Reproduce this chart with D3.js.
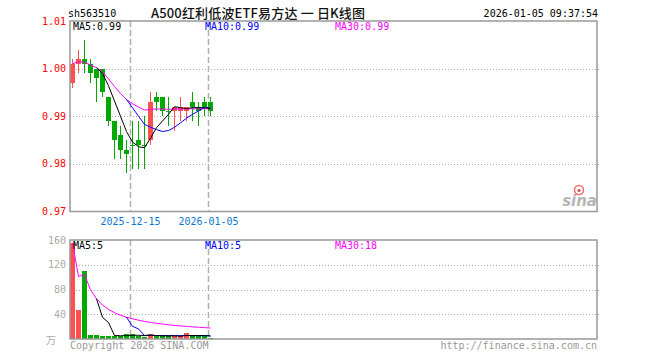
<!DOCTYPE html>
<html><head><meta charset="utf-8">
<script src="https://cdn.jsdelivr.net/npm/d3@7"></script>
<style>html,body{margin:0;padding:0;background:#fff}svg{display:block}</style>
</head><body>
<svg id="c" width="660" height="360"></svg>
<script>
// ---- data ----
const dates = ["2025-12-01","2025-12-02","2025-12-03","2025-12-04","2025-12-05","2025-12-08","2025-12-09","2025-12-10","2025-12-11","2025-12-12","2025-12-15","2025-12-16","2025-12-17","2025-12-18","2025-12-19","2025-12-22","2025-12-23","2025-12-24","2025-12-25","2025-12-26","2025-12-29","2025-12-30","2025-12-31","2026-01-05"];
const openP  = [0.997,1.001,1.002,1.001,1.000,1.000,0.994,0.989,0.986,0.983,0.984,0.985,0.984,0.985,0.994,0.994,0.991,0.991,0.991,0.991,0.993,0.992,0.993,0.993];
const highP  = [1.002,1.004,1.006,1.002,1.000,1.000,0.994,0.989,0.988,0.985,0.989,0.989,0.990,0.995,0.995,0.994,0.994,0.992,0.994,0.992,0.995,0.993,0.994,0.994];
const lowP   = [0.996,0.999,0.999,0.997,0.993,0.994,0.988,0.981,0.981,0.978,0.979,0.979,0.979,0.984,0.991,0.990,0.988,0.987,0.989,0.989,0.989,0.988,0.990,0.990];
const closeP = [1.001,1.002,1.001,0.999,0.998,0.995,0.989,0.985,0.983,0.982,0.984,0.984,0.984,0.993,0.993,0.991,0.991,0.992,0.992,0.992,0.992,0.991,0.992,0.991];
const volume = [155,47,110,6.5,6.5,5,5,5,5,7.5,7.5,5,3.5,8,4.5,4.5,4.5,4.5,4.5,10,4.5,4.5,4.5,1.5];
const priceTicks = [1.01,1.00,0.99,0.98,0.97];
const volTicks = [160,120,80,40];
const dateMarks = ["2025-12-15","2026-01-05"];
const titleCode = "sh563510";
const titleName = "A500红利低波ETF易方达 一 日K线图";
const timeStamp = "2026-01-05 09:37:54";

// ---- helpers ----
function ma(arr, n, partial){
  return arr.map((v,i)=>{
    if(i < n-1 && !partial) return null;
    const s = Math.max(0,i-n+1);
    return d3.mean(arr.slice(s,i+1));
  });
}
const ma5p = ma(closeP,5,false), ma10p = ma(closeP,10,false), ma30p = ma(closeP,30,true);
const ma5v = ma(volume,5,false), ma10v = ma(volume,10,false), ma30v = ma(volume,30,true);

const svg = d3.select("#c");
const L = 70, R = 597;
const x = d3.scaleBand().domain(d3.range(88)).range([L, L+6*88]).padding(0);
const yP = d3.scaleLinear().domain([0.97,1.01]).range([211.5,21]);
const yV = d3.scaleLinear().domain([0,160]).range([339,240]);
const RED = "#ff5050", GREEN = "#00a800";
const mono = "'DejaVu Sans Mono', monospace";
const isUp = i => closeP[i] > openP[i];
const cx = i => x(i) + 2.5;

// ---- header ----
svg.append("text").attr("x",68).attr("y",17).attr("font-family",mono).attr("font-size",10).attr("fill","#000").text(titleCode);
svg.append("text").attr("x",151).attr("y",17.5).attr("font-family","'Noto Sans CJK SC', sans-serif").attr("font-size",13).attr("font-weight",500)
  .attr("fill","#111").attr("textLength",214).attr("lengthAdjust","spacing").text(titleName);
svg.append("text").attr("x",598).attr("y",17).attr("text-anchor","end").attr("font-family",mono).attr("font-size",10).attr("fill","#000").text(timeStamp);

// ---- price panel ----
const gP = svg.append("g");
priceTicks.forEach(t=>{
  if(t>0.97 && t<1.01){
    gP.append("line").attr("x1",L).attr("x2",R+2).attr("y1",Math.round(yP(t))+0.5).attr("y2",Math.round(yP(t))+0.5)
      .attr("stroke","#aaa").attr("stroke-dasharray","1,2");
  }
  gP.append("text").attr("x",66).attr("y",yP(t)+3.5).attr("text-anchor","end").attr("font-family",mono).attr("font-size",10).attr("fill","#ff0000").text(t.toFixed(2));
});
dateMarks.forEach(d=>{
  const i = dates.indexOf(d);
  const xx = x(i)+0.5;
  gP.append("line").attr("x1",xx).attr("x2",xx).attr("y1",21).attr("y2",211).attr("stroke","#b0b0b0").attr("stroke-width",1.5).attr("stroke-dasharray","6,3");
  svg.append("line").attr("x1",xx).attr("x2",xx).attr("y1",240).attr("y2",339).attr("stroke","#b0b0b0").attr("stroke-width",1.5).attr("stroke-dasharray","6,3");
  gP.append("text").attr("x",xx).attr("y",225).attr("text-anchor","middle").attr("font-family",mono).attr("font-size",10).attr("fill","#0a78d2").text(d);
});
// candles
dates.forEach((d,i)=>{
  const col = isUp(i) ? RED : GREEN;
  gP.append("line").attr("x1",cx(i)).attr("x2",cx(i)).attr("y1",yP(highP[i])).attr("y2",yP(lowP[i])).attr("stroke",col).attr("stroke-width",1).attr("shape-rendering","crispEdges");
  const top = yP(Math.max(openP[i],closeP[i])), bot = yP(Math.min(openP[i],closeP[i]));
  gP.append("rect").attr("x",x(i)).attr("width",x.bandwidth()-1).attr("y",top).attr("height",Math.max(1,bot-top)).attr("fill",col).attr("shape-rendering","crispEdges");
});
function drawMA(g, arr, y, color){
  const line = d3.line().defined(v=>v!=null).x((v,i)=>cx(i)).y(v=>y(v));
  g.append("path").attr("d",line(arr)).attr("fill","none").attr("stroke",color).attr("stroke-width",1);
}
drawMA(gP, ma30p, yP, "#ff00ff");
drawMA(gP, ma10p, yP, "#0000ff");
drawMA(gP, ma5p, yP, "#000000");
gP.append("rect").attr("x",L).attr("y",21).attr("width",R-L).attr("height",190.5).attr("fill","none").attr("stroke","#999").attr("stroke-width",1.5);
const last = a => a[a.length-1];
gP.append("text").attr("x",73).attr("y",30).attr("font-family",mono).attr("font-size",10).attr("fill","#000").text("MA5:"+last(ma5p).toFixed(2));
gP.append("text").attr("x",205).attr("y",30).attr("font-family",mono).attr("font-size",10).attr("fill","#0000ff").text("MA10:"+last(ma10p).toFixed(2));
gP.append("text").attr("x",335).attr("y",30).attr("font-family",mono).attr("font-size",10).attr("fill","#ff00ff").text("MA30:"+last(ma30p).toFixed(2));

// sina logo
const lg = svg.append("g");
lg.append("circle").attr("cx",579).attr("cy",190).attr("r",4.5).attr("fill","none").attr("stroke","#f07070").attr("stroke-width",1.6);
lg.append("circle").attr("cx",579).attr("cy",190.5).attr("r",1.6).attr("fill","#d05050");
lg.append("text").attr("x",597).attr("y",206).attr("text-anchor","end").attr("font-family","'DejaVu Sans', sans-serif").attr("font-style","italic").attr("font-weight","bold").attr("font-size",15).attr("fill","#b5b5b5").text("sina");

// ---- volume panel ----
const gV = svg.append("g");
volTicks.forEach(t=>{
  if(t<160){
    gV.append("line").attr("x1",L).attr("x2",R+2).attr("y1",Math.round(yV(t))+0.5).attr("y2",Math.round(yV(t))+0.5)
      .attr("stroke","#aaa").attr("stroke-dasharray","1,2");
  }
  gV.append("text").attr("x",66).attr("y",yV(t)+3.5).attr("text-anchor","end").attr("font-family",mono).attr("font-size",10).attr("fill","#aaaaaa").text(t);
});
gV.append("text").attr("x",56).attr("y",343.5).attr("text-anchor","end").attr("font-family","'Noto Sans CJK SC', sans-serif").attr("font-size",10).attr("fill","#aaaaaa").text("万");
dates.forEach((d,i)=>{
  const col = isUp(i) ? RED : GREEN;
  gV.append("rect").attr("x",x(i)).attr("width",x.bandwidth()-1).attr("y",yV(volume[i])).attr("height",yV(0)-yV(volume[i])).attr("fill",col).attr("shape-rendering","crispEdges");
});
drawMA(gV, ma30v, yV, "#ff00ff");
drawMA(gV, ma10v, yV, "#0000ff");
drawMA(gV, ma5v, yV, "#000000");
gV.append("rect").attr("x",L).attr("y",240).attr("width",R-L).attr("height",99).attr("fill","none").attr("stroke","#999").attr("stroke-width",1.5);
gV.append("text").attr("x",73).attr("y",249).attr("font-family",mono).attr("font-size",10).attr("fill","#000").text("MA5:"+Math.round(last(ma5v)));
gV.append("text").attr("x",205).attr("y",249).attr("font-family",mono).attr("font-size",10).attr("fill","#0000ff").text("MA10:"+Math.round(last(ma10v)));
gV.append("text").attr("x",335).attr("y",249).attr("font-family",mono).attr("font-size",10).attr("fill","#ff00ff").text("MA30:"+Math.round(last(ma30v)));

// footer
svg.append("text").attr("x",70).attr("y",349).attr("font-family",mono).attr("font-size",10).attr("fill","#999").text("Copyright 2026 SINA.COM");
svg.append("text").attr("x",597).attr("y",349).attr("text-anchor","end").attr("font-family",mono).attr("font-size",10).attr("fill","#999").text("http://finance.sina.com.cn");
</script>
</body></html>
